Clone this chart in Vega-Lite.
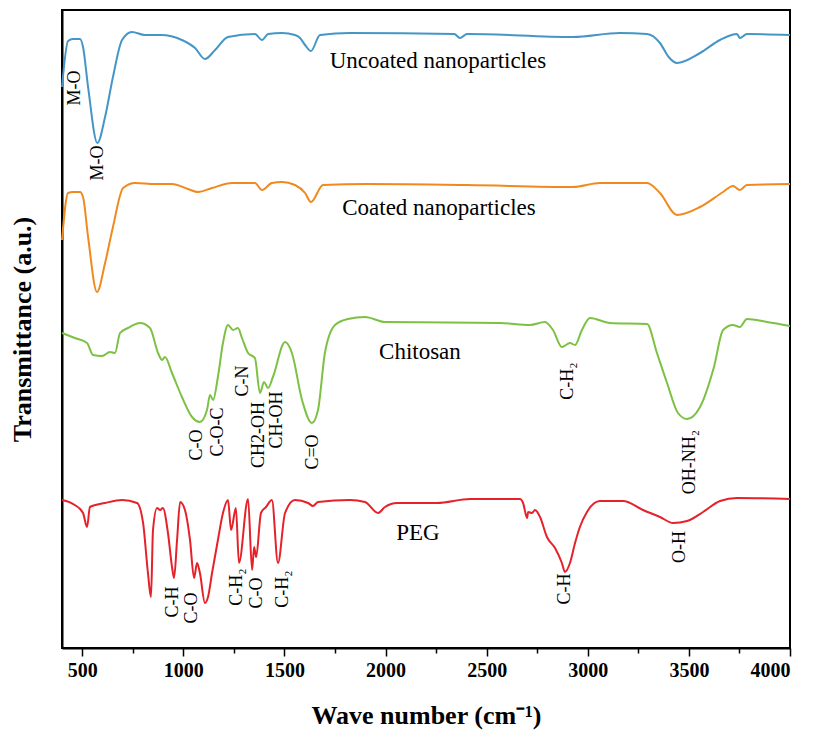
{
  "$schema": "https://vega.github.io/schema/vega-lite/v6.json",
  "autosize": "none",
  "width": 728,
  "height": 638,
  "padding": {"left": 62, "top": 10, "right": 25, "bottom": 90},
  "background": "white",
  "config": {
    "view": {"stroke": "black", "strokeWidth": 2},
    "font": "Liberation Serif"
  },
  "datasets": {
    "spectra": [
      {"series": "Uncoated", "wn": 400, "t": 561}, {"series": "Uncoated", "wn": 430, "t": 607}, {"series": "Uncoated", "wn": 454, "t": 609}, {"series": "Uncoated", "wn": 489, "t": 609}, {"series": "Uncoated", "wn": 504, "t": 601}, {"series": "Uncoated", "wn": 529, "t": 561}, {"series": "Uncoated", "wn": 575, "t": 505}, {"series": "Uncoated", "wn": 613, "t": 531}, {"series": "Uncoated", "wn": 652, "t": 571}, {"series": "Uncoated", "wn": 697, "t": 608}, {"series": "Uncoated", "wn": 746, "t": 616}, {"series": "Uncoated", "wn": 810, "t": 613}, {"series": "Uncoated", "wn": 890, "t": 613}, {"series": "Uncoated", "wn": 993, "t": 608}, {"series": "Uncoated", "wn": 1058, "t": 600}, {"series": "Uncoated", "wn": 1107, "t": 589}, {"series": "Uncoated", "wn": 1157, "t": 598}, {"series": "Uncoated", "wn": 1221, "t": 611}, {"series": "Uncoated", "wn": 1354, "t": 614}, {"series": "Uncoated", "wn": 1389, "t": 608}, {"series": "Uncoated", "wn": 1419, "t": 614}, {"series": "Uncoated", "wn": 1488, "t": 615}, {"series": "Uncoated", "wn": 1552, "t": 613}, {"series": "Uncoated", "wn": 1577, "t": 610}, {"series": "Uncoated", "wn": 1602, "t": 603}, {"series": "Uncoated", "wn": 1631, "t": 597}, {"series": "Uncoated", "wn": 1676, "t": 613}, {"series": "Uncoated", "wn": 1824, "t": 615}, {"series": "Uncoated", "wn": 2340, "t": 614}, {"series": "Uncoated", "wn": 2368, "t": 610}, {"series": "Uncoated", "wn": 2403, "t": 614}, {"series": "Uncoated", "wn": 2927, "t": 611}, {"series": "Uncoated", "wn": 3159, "t": 615}, {"series": "Uncoated", "wn": 3293, "t": 614}, {"series": "Uncoated", "wn": 3357, "t": 605}, {"series": "Uncoated", "wn": 3400, "t": 591}, {"series": "Uncoated", "wn": 3441, "t": 585}, {"series": "Uncoated", "wn": 3555, "t": 595}, {"series": "Uncoated", "wn": 3654, "t": 608}, {"series": "Uncoated", "wn": 3738, "t": 614}, {"series": "Uncoated", "wn": 3752, "t": 610}, {"series": "Uncoated", "wn": 3787, "t": 614}, {"series": "Uncoated", "wn": 4000, "t": 613},
      {"series": "Coated", "wn": 400, "t": 408}, {"series": "Coated", "wn": 430, "t": 455}, {"series": "Coated", "wn": 454, "t": 456}, {"series": "Coated", "wn": 489, "t": 456}, {"series": "Coated", "wn": 504, "t": 451}, {"series": "Coated", "wn": 529, "t": 411}, {"series": "Coated", "wn": 573, "t": 356}, {"series": "Coated", "wn": 613, "t": 385}, {"series": "Coated", "wn": 652, "t": 421}, {"series": "Coated", "wn": 702, "t": 460}, {"series": "Coated", "wn": 761, "t": 465}, {"series": "Coated", "wn": 860, "t": 464}, {"series": "Coated", "wn": 944, "t": 464}, {"series": "Coated", "wn": 1023, "t": 459}, {"series": "Coated", "wn": 1073, "t": 456}, {"series": "Coated", "wn": 1142, "t": 460}, {"series": "Coated", "wn": 1241, "t": 465}, {"series": "Coated", "wn": 1354, "t": 465}, {"series": "Coated", "wn": 1389, "t": 458}, {"series": "Coated", "wn": 1438, "t": 465}, {"series": "Coated", "wn": 1488, "t": 466}, {"series": "Coated", "wn": 1552, "t": 463}, {"series": "Coated", "wn": 1602, "t": 455}, {"series": "Coated", "wn": 1631, "t": 446}, {"series": "Coated", "wn": 1691, "t": 463}, {"series": "Coated", "wn": 1908, "t": 464}, {"series": "Coated", "wn": 2403, "t": 463}, {"series": "Coated", "wn": 2927, "t": 461}, {"series": "Coated", "wn": 3060, "t": 465}, {"series": "Coated", "wn": 3293, "t": 465}, {"series": "Coated", "wn": 3357, "t": 455}, {"series": "Coated", "wn": 3441, "t": 433}, {"series": "Coated", "wn": 3555, "t": 441}, {"series": "Coated", "wn": 3669, "t": 456}, {"series": "Coated", "wn": 3718, "t": 462}, {"series": "Coated", "wn": 3752, "t": 458}, {"series": "Coated", "wn": 3787, "t": 463}, {"series": "Coated", "wn": 4000, "t": 464},
      {"series": "Chitosan", "wn": 400, "t": 315}, {"series": "Chitosan", "wn": 463, "t": 310}, {"series": "Chitosan", "wn": 524, "t": 305}, {"series": "Chitosan", "wn": 553, "t": 293}, {"series": "Chitosan", "wn": 598, "t": 292}, {"series": "Chitosan", "wn": 637, "t": 296}, {"series": "Chitosan", "wn": 662, "t": 295}, {"series": "Chitosan", "wn": 687, "t": 315}, {"series": "Chitosan", "wn": 726, "t": 320}, {"series": "Chitosan", "wn": 786, "t": 325}, {"series": "Chitosan", "wn": 835, "t": 320}, {"series": "Chitosan", "wn": 875, "t": 295}, {"series": "Chitosan", "wn": 895, "t": 288}, {"series": "Chitosan", "wn": 909, "t": 291}, {"series": "Chitosan", "wn": 944, "t": 275}, {"series": "Chitosan", "wn": 993, "t": 251}, {"series": "Chitosan", "wn": 1043, "t": 231}, {"series": "Chitosan", "wn": 1082, "t": 226}, {"series": "Chitosan", "wn": 1117, "t": 238}, {"series": "Chitosan", "wn": 1132, "t": 253}, {"series": "Chitosan", "wn": 1147, "t": 248}, {"series": "Chitosan", "wn": 1171, "t": 271}, {"series": "Chitosan", "wn": 1196, "t": 305}, {"series": "Chitosan", "wn": 1221, "t": 323}, {"series": "Chitosan", "wn": 1246, "t": 318}, {"series": "Chitosan", "wn": 1270, "t": 320}, {"series": "Chitosan", "wn": 1290, "t": 310}, {"series": "Chitosan", "wn": 1320, "t": 295}, {"series": "Chitosan", "wn": 1354, "t": 290}, {"series": "Chitosan", "wn": 1379, "t": 255}, {"series": "Chitosan", "wn": 1399, "t": 266}, {"series": "Chitosan", "wn": 1419, "t": 260}, {"series": "Chitosan", "wn": 1443, "t": 271}, {"series": "Chitosan", "wn": 1503, "t": 306}, {"series": "Chitosan", "wn": 1537, "t": 295}, {"series": "Chitosan", "wn": 1587, "t": 248}, {"series": "Chitosan", "wn": 1636, "t": 225}, {"series": "Chitosan", "wn": 1666, "t": 238}, {"series": "Chitosan", "wn": 1700, "t": 295}, {"series": "Chitosan", "wn": 1750, "t": 323}, {"series": "Chitosan", "wn": 1814, "t": 329}, {"series": "Chitosan", "wn": 1898, "t": 331}, {"series": "Chitosan", "wn": 1997, "t": 326}, {"series": "Chitosan", "wn": 2566, "t": 325}, {"series": "Chitosan", "wn": 2714, "t": 323}, {"series": "Chitosan", "wn": 2788, "t": 326}, {"series": "Chitosan", "wn": 2828, "t": 318}, {"series": "Chitosan", "wn": 2872, "t": 301}, {"series": "Chitosan", "wn": 2912, "t": 305}, {"series": "Chitosan", "wn": 2937, "t": 303}, {"series": "Chitosan", "wn": 2971, "t": 318}, {"series": "Chitosan", "wn": 3011, "t": 330}, {"series": "Chitosan", "wn": 3110, "t": 325}, {"series": "Chitosan", "wn": 3293, "t": 324}, {"series": "Chitosan", "wn": 3342, "t": 295}, {"series": "Chitosan", "wn": 3392, "t": 265}, {"series": "Chitosan", "wn": 3446, "t": 235}, {"series": "Chitosan", "wn": 3491, "t": 229}, {"series": "Chitosan", "wn": 3555, "t": 241}, {"series": "Chitosan", "wn": 3624, "t": 281}, {"series": "Chitosan", "wn": 3669, "t": 318}, {"series": "Chitosan", "wn": 3718, "t": 323}, {"series": "Chitosan", "wn": 3752, "t": 321}, {"series": "Chitosan", "wn": 3787, "t": 329}, {"series": "Chitosan", "wn": 3886, "t": 326}, {"series": "Chitosan", "wn": 4000, "t": 322},
      {"series": "PEG", "wn": 400, "t": 148}, {"series": "PEG", "wn": 463, "t": 143}, {"series": "PEG", "wn": 504, "t": 135}, {"series": "PEG", "wn": 524, "t": 121}, {"series": "PEG", "wn": 538, "t": 141}, {"series": "PEG", "wn": 613, "t": 145}, {"series": "PEG", "wn": 697, "t": 148}, {"series": "PEG", "wn": 771, "t": 145}, {"series": "PEG", "wn": 801, "t": 125}, {"series": "PEG", "wn": 825, "t": 75}, {"series": "PEG", "wn": 840, "t": 51}, {"series": "PEG", "wn": 850, "t": 118}, {"series": "PEG", "wn": 870, "t": 140}, {"series": "PEG", "wn": 885, "t": 138}, {"series": "PEG", "wn": 899, "t": 140}, {"series": "PEG", "wn": 924, "t": 115}, {"series": "PEG", "wn": 944, "t": 81}, {"series": "PEG", "wn": 954, "t": 70}, {"series": "PEG", "wn": 969, "t": 108}, {"series": "PEG", "wn": 984, "t": 146}, {"series": "PEG", "wn": 1008, "t": 138}, {"series": "PEG", "wn": 1033, "t": 108}, {"series": "PEG", "wn": 1053, "t": 70}, {"series": "PEG", "wn": 1068, "t": 85}, {"series": "PEG", "wn": 1082, "t": 75}, {"series": "PEG", "wn": 1107, "t": 45}, {"series": "PEG", "wn": 1122, "t": 51}, {"series": "PEG", "wn": 1142, "t": 75}, {"series": "PEG", "wn": 1171, "t": 108}, {"series": "PEG", "wn": 1196, "t": 135}, {"series": "PEG", "wn": 1221, "t": 148}, {"series": "PEG", "wn": 1236, "t": 118}, {"series": "PEG", "wn": 1260, "t": 140}, {"series": "PEG", "wn": 1275, "t": 85}, {"series": "PEG", "wn": 1320, "t": 149}, {"series": "PEG", "wn": 1340, "t": 78}, {"series": "PEG", "wn": 1350, "t": 101}, {"series": "PEG", "wn": 1360, "t": 91}, {"series": "PEG", "wn": 1384, "t": 135}, {"series": "PEG", "wn": 1409, "t": 141}, {"series": "PEG", "wn": 1438, "t": 148}, {"series": "PEG", "wn": 1468, "t": 85}, {"series": "PEG", "wn": 1503, "t": 135}, {"series": "PEG", "wn": 1552, "t": 148}, {"series": "PEG", "wn": 1617, "t": 145}, {"series": "PEG", "wn": 1641, "t": 142}, {"series": "PEG", "wn": 1666, "t": 146}, {"series": "PEG", "wn": 1824, "t": 148}, {"series": "PEG", "wn": 1898, "t": 146}, {"series": "PEG", "wn": 1963, "t": 135}, {"series": "PEG", "wn": 1997, "t": 141}, {"series": "PEG", "wn": 2057, "t": 145}, {"series": "PEG", "wn": 2170, "t": 145}, {"series": "PEG", "wn": 2254, "t": 145}, {"series": "PEG", "wn": 2418, "t": 149}, {"series": "PEG", "wn": 2665, "t": 149}, {"series": "PEG", "wn": 2680, "t": 145}, {"series": "PEG", "wn": 2700, "t": 130}, {"series": "PEG", "wn": 2705, "t": 136}, {"series": "PEG", "wn": 2724, "t": 135}, {"series": "PEG", "wn": 2739, "t": 138}, {"series": "PEG", "wn": 2764, "t": 131}, {"series": "PEG", "wn": 2798, "t": 111}, {"series": "PEG", "wn": 2838, "t": 100}, {"series": "PEG", "wn": 2872, "t": 85}, {"series": "PEG", "wn": 2887, "t": 76}, {"series": "PEG", "wn": 2912, "t": 85}, {"series": "PEG", "wn": 2937, "t": 105}, {"series": "PEG", "wn": 2961, "t": 121}, {"series": "PEG", "wn": 2996, "t": 136}, {"series": "PEG", "wn": 3060, "t": 147}, {"series": "PEG", "wn": 3174, "t": 147}, {"series": "PEG", "wn": 3273, "t": 138}, {"series": "PEG", "wn": 3357, "t": 131}, {"series": "PEG", "wn": 3422, "t": 125}, {"series": "PEG", "wn": 3491, "t": 127}, {"series": "PEG", "wn": 3570, "t": 136}, {"series": "PEG", "wn": 3654, "t": 147}, {"series": "PEG", "wn": 3738, "t": 150}, {"series": "PEG", "wn": 4000, "t": 149}
    ],
    "labels": [
      {"label": "M-O", "wn": 464, "t": 560, "kind": "peak"},
      {"label": "M-O", "wn": 578, "t": 485, "kind": "peak"},
      {"label": "C-O", "wn": 1068, "t": 203, "kind": "peak"},
      {"label": "C-O-C", "wn": 1171, "t": 216, "kind": "peak"},
      {"label": "C-N", "wn": 1295, "t": 267, "kind": "peak"},
      {"label": "CH2-OH", "wn": 1374, "t": 213, "kind": "peak"},
      {"label": "CH-OH", "wn": 1463, "t": 228, "kind": "peak"},
      {"label": "C=O", "wn": 1641, "t": 196, "kind": "peak"},
      {"label": "C-H₂", "wn": 2902, "t": 267, "kind": "peak"},
      {"label": "OH-NH₂", "wn": 3505, "t": 186, "kind": "peak"},
      {"label": "C-H", "wn": 949, "t": 46, "kind": "peak"},
      {"label": "C-O", "wn": 1043, "t": 40, "kind": "peak"},
      {"label": "C-H₂", "wn": 1265, "t": 61, "kind": "peak"},
      {"label": "C-O", "wn": 1364, "t": 55, "kind": "peak"},
      {"label": "C-H₂", "wn": 1493, "t": 59, "kind": "peak"},
      {"label": "C-H", "wn": 2887, "t": 59, "kind": "peak"},
      {"label": "O-H", "wn": 3456, "t": 101, "kind": "peak"}
    ],
    "names": [
      {"label": "Uncoated nanoparticles", "wn": 2259, "t": 587},
      {"label": "Coated nanoparticles", "wn": 2264, "t": 440},
      {"label": "Chitosan", "wn": 2170, "t": 296},
      {"label": "PEG", "wn": 2160, "t": 115}
    ]
  },
  "layer": [
    {
      "data": {"name": "spectra"},
      "mark": {"type": "line", "strokeWidth": 2, "interpolate": "monotone"},
      "encoding": {
        "x": {
          "field": "wn", "type": "quantitative",
          "scale": {"domain": [400, 4000], "nice": false, "zero": false},
          "axis": {
            "title": "Wave number (cm⁻¹)",
            "values": [500, 750, 1000, 1250, 1500, 1750, 2000, 2250, 2500, 2750, 3000, 3250, 3500, 3750, 4000],
            "labelExpr": "datum.value % 500 === 0 ? datum.value : ''",
            "tickSize": {"condition": {"test": "datum.value % 500 === 0", "value": 8}, "value": 5},
            "tickColor": "black", "tickWidth": 1.5,
            "domainColor": "black", "domainWidth": 2,
            "grid": false,
            "labelFont": "Liberation Serif", "labelFontWeight": "bold", "labelFontSize": 20, "labelColor": "black",
            "labelPadding": 4,
            "titleFont": "Liberation Serif", "titleFontWeight": "bold", "titleFontSize": 26, "titleColor": "black",
            "titlePadding": 22
          }
        },
        "y": {
          "field": "t", "type": "quantitative",
          "scale": {"domain": [0, 638], "nice": false, "zero": false},
          "axis": {
            "title": "Transmittance (a.u.)",
            "ticks": false, "labels": false, "grid": false,
            "domainColor": "black", "domainWidth": 2,
            "titleFont": "Liberation Serif", "titleFontWeight": "bold", "titleFontSize": 26, "titleColor": "black",
            "titlePadding": 27
          }
        },
        "color": {
          "field": "series", "type": "nominal", "legend": null,
          "scale": {"domain": ["Uncoated", "Coated", "Chitosan", "PEG"], "range": ["#4596c6", "#f08a1e", "#7cc143", "#e5212a"]}
        }
      }
    },
    {
      "data": {"name": "labels"},
      "mark": {"type": "text", "angle": 270, "align": "center", "baseline": "middle", "font": "Liberation Serif", "fontSize": 18, "color": "black"},
      "encoding": {
        "x": {"field": "wn", "type": "quantitative"},
        "y": {"field": "t", "type": "quantitative"},
        "text": {"field": "label"}
      }
    },
    {
      "data": {"name": "names"},
      "mark": {"type": "text", "align": "center", "baseline": "middle", "font": "Liberation Serif", "fontSize": 23, "color": "black"},
      "encoding": {
        "x": {"field": "wn", "type": "quantitative"},
        "y": {"field": "t", "type": "quantitative"},
        "text": {"field": "label"}
      }
    }
  ]
}
